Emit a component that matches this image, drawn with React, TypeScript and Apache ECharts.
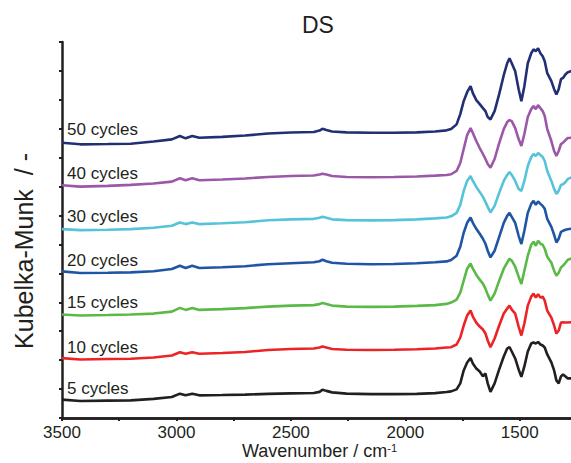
import React, { useEffect, useRef } from "react";
import * as echarts from "echarts";

const wavenumbers = [3500, 3420, 3300, 3200, 3100, 3020, 2985, 2960, 2931, 2900, 2800, 2700, 2600, 2500, 2400, 2375, 2362, 2345, 2320, 2257, 2150, 2050, 1950, 1870, 1820, 1800, 1776, 1760, 1745, 1730, 1715, 1705, 1690, 1675, 1661, 1650, 1640, 1628, 1610, 1590, 1570, 1555, 1545, 1535, 1520, 1505, 1493, 1480, 1465, 1450, 1440, 1430, 1420, 1410, 1400, 1391, 1380, 1362, 1350, 1340, 1330, 1320, 1311, 1300, 1290, 1277, 1260, 1250];

const cycles5 = [18.4, 17.0, 17.4, 17.7, 19.2, 21.0, 24.4, 22.7, 24.4, 22.7, 23.0, 23.4, 24.2, 24.7, 25.0, 26.2, 28.4, 27.2, 25.7, 24.4, 23.9, 23.9, 24.2, 24.9, 26.0, 26.7, 28.7, 34.7, 47.7, 55.7, 60.2, 54.7, 49.7, 46.7, 41.7, 44.7, 34.7, 26.2, 34.7, 48.7, 61.7, 69.7, 71.2, 66.7, 59.7, 48.7, 41.2, 51.7, 66.7, 74.7, 75.7, 74.7, 76.2, 73.7, 72.7, 70.7, 63.7, 55.7, 47.7, 37.7, 34.7, 41.7, 43.7, 41.7, 39.7, 39.7, 39.7, 39.7];
const cycles10 = [60.0, 58.7, 59.1, 59.4, 60.7, 62.7, 66.0, 64.4, 66.0, 64.4, 65.2, 66.2, 68.2, 69.2, 69.7, 70.7, 71.7, 70.7, 69.2, 68.4, 68.2, 68.4, 68.9, 69.7, 70.7, 71.0, 73.7, 80.7, 92.7, 102.7, 107.7, 101.7, 95.7, 91.7, 88.7, 84.7, 77.7, 71.0, 79.7, 92.7, 104.7, 109.7, 112.7, 108.7, 104.7, 91.7, 82.7, 94.7, 112.7, 121.7, 124.7, 120.7, 124.2, 120.7, 121.7, 117.7, 107.7, 100.7, 92.7, 84.7, 87.7, 95.7, 96.0, 95.7, 95.7, 96.0, 96.2, 96.2];
const cycles15 = [103.7, 102.7, 103.2, 103.7, 104.7, 106.7, 110.4, 108.4, 110.4, 108.4, 109.2, 110.2, 111.7, 112.7, 113.2, 114.2, 115.4, 114.2, 112.7, 111.7, 111.4, 111.7, 112.4, 113.2, 114.4, 115.7, 118.7, 125.7, 137.7, 149.7, 155.0, 149.7, 143.7, 138.7, 134.7, 129.7, 123.7, 117.7, 124.7, 137.7, 149.7, 155.7, 159.7, 157.7, 151.7, 141.7, 134.4, 147.7, 162.7, 173.7, 176.7, 172.7, 177.7, 174.7, 173.7, 169.7, 161.7, 155.7, 147.7, 142.7, 145.7, 151.0, 152.7, 155.7, 158.7, 159.7, 161.7, 162.7];
const cycles20 = [147.0, 145.4, 145.7, 146.0, 147.2, 149.4, 152.7, 150.4, 152.7, 150.4, 151.2, 152.2, 154.2, 155.2, 156.2, 157.2, 158.7, 157.2, 155.7, 154.7, 154.2, 154.4, 155.2, 156.2, 157.0, 158.4, 162.7, 171.7, 185.7, 195.7, 201.0, 195.7, 189.7, 184.7, 179.7, 174.7, 167.7, 161.0, 167.7, 181.7, 195.7, 202.7, 205.7, 201.7, 195.7, 182.7, 174.4, 187.7, 205.7, 214.7, 217.7, 213.7, 217.2, 214.7, 212.7, 209.7, 199.7, 191.7, 183.7, 176.0, 179.7, 186.7, 187.7, 188.7, 189.2, 189.7, 190.2, 190.2];
const cycles30 = [189.4, 188.4, 188.7, 189.4, 190.7, 192.7, 196.0, 194.4, 196.0, 194.4, 195.2, 196.2, 198.2, 199.2, 199.7, 200.7, 201.7, 200.7, 199.2, 198.4, 198.2, 198.4, 199.2, 200.2, 201.0, 202.2, 205.7, 213.7, 227.7, 237.7, 242.7, 237.7, 231.7, 226.7, 221.7, 216.7, 211.7, 206.0, 212.7, 225.7, 237.7, 243.7, 246.7, 243.7, 237.7, 229.7, 227.7, 237.7, 252.7, 261.7, 264.7, 262.7, 265.7, 263.7, 261.7, 257.7, 247.7, 237.7, 229.7, 224.7, 227.7, 233.7, 234.4, 236.7, 239.7, 241.0, 242.7, 243.7];
const cycles40 = [233.4, 232.0, 232.7, 233.7, 235.2, 237.0, 240.4, 238.4, 240.4, 238.4, 239.2, 240.2, 241.7, 242.7, 243.2, 244.2, 245.0, 244.2, 242.7, 241.7, 241.4, 241.7, 242.2, 243.0, 243.7, 244.4, 247.7, 255.7, 269.7, 283.7, 290.7, 285.7, 277.7, 270.7, 264.7, 259.7, 254.7, 251.0, 259.7, 275.7, 289.7, 296.7, 298.7, 297.7, 290.7, 279.7, 272.7, 284.7, 301.7, 309.7, 312.7, 309.7, 313.7, 310.7, 307.7, 302.7, 289.7, 277.7, 267.7, 262.7, 267.7, 274.7, 276.0, 278.7, 280.7, 281.0, 282.7, 283.7];
const cycles50 = [276.0, 274.4, 274.7, 275.0, 277.2, 279.4, 282.7, 280.4, 282.7, 281.0, 281.9, 283.2, 285.2, 286.2, 286.7, 288.2, 290.0, 288.7, 287.2, 286.4, 286.0, 286.0, 286.4, 287.2, 288.4, 289.7, 294.4, 304.7, 317.7, 326.7, 332.7, 325.7, 318.7, 314.7, 310.7, 307.7, 301.7, 299.4, 307.7, 324.7, 343.7, 355.7, 360.7, 355.7, 347.7, 329.7, 317.7, 332.7, 355.7, 365.7, 369.7, 367.7, 370.7, 365.7, 362.7, 357.7, 345.7, 337.7, 329.7, 324.4, 329.7, 339.7, 341.0, 344.7, 346.7, 347.7, 349.7, 350.7];

const seriesNames = ["5 cycles", "10 cycles", "15 cycles", "20 cycles", "30 cycles", "40 cycles", "50 cycles"];
const seriesValues = [cycles5, cycles10, cycles15, cycles20, cycles30, cycles40, cycles50];
const labelLevels = [29.4, 71, 115.4, 157.7, 202, 245, 289.4];
const xTicks = [3500, 3000, 2500, 2000, 1500];

const colors = ["#231f20", "#ec2327", "#5bb947", "#1f55a5", "#55c4d8", "#9c58a8", "#222f73"];
const FONT = "Liberation Sans, Arial, sans-serif";
const INK = "#231f20";

export default function App() {
  const ref = useRef<HTMLDivElement>(null);
  useEffect(() => {
    if (!ref.current) return;
    const chart = echarts.init(ref.current, null, { renderer: "svg" });
    const axisLine = { show: true, lineStyle: { color: INK, width: 2.5 } };
    const series = seriesNames.map((name, si) => ({
      name,
      type: "line",
      showSymbol: false,
      symbol: "none",
      data: wavenumbers.map((w, i) => [w, seriesValues[si][i]]),
      lineStyle: { color: colors[si], width: 2.6 },
      itemStyle: { color: colors[si] },
      z: 3,
      markPoint: {
        silent: true,
        symbol: "circle",
        symbolSize: 1,
        itemStyle: { color: "rgba(0,0,0,0)" },
        label: {
          show: true,
          position: "right",
          distance: 0,
          formatter: name,
          color: INK,
          fontSize: 17,
          fontFamily: FONT,
        },
        data: [{ coord: [3480, labelLevels[si]], name }],
      },
    }));
    chart.setOption({
      animation: false,
      backgroundColor: "#ffffff",
      title: {
        text: "DS",
        left: 302,
        top: 13,
        padding: 0,
        textStyle: { fontSize: 23, fontWeight: "normal", color: INK, fontFamily: FONT },
      },
      grid: { left: 62, right: 3, top: 42, bottom: 45, containLabel: false, outerBoundsMode: "none" },
      xAxis: [
        {
          type: "value",
          position: "bottom",
          inverse: true,
          min: 1250,
          max: 3500,
          interval: 250,
          axisLine,
          axisTick: { show: true, inside: false, length: 3, lineStyle: { color: INK, width: 2 } },
          axisLabel: {
            formatter: (v: number) => (xTicks.includes(v) ? String(v) : ""),
            fontSize: 17,
            color: INK,
            fontFamily: FONT,
            margin: 6,
          },
          splitLine: { show: false },
          name: "Wavenumber / cm{sup|-1}",
          nameLocation: "middle",
          nameGap: 24,
          nameMoveOverlap: false,
          nameTextStyle: {
            fontSize: 18,
            lineHeight: 18,
            color: INK,
            fontFamily: FONT,
            rich: { sup: { fontSize: 11, lineHeight: 18, color: INK, fontFamily: FONT, padding: [0, 0, 6, 0] } },
          },
        },
        {
          type: "value",
          position: "top",
          inverse: true,
          min: 1250,
          max: 3500,
          interval: 250,
          axisLine,
          axisTick: { show: true, inside: true, length: 3, lineStyle: { color: INK, width: 2 } },
          axisLabel: { show: false },
          splitLine: { show: false },
        },
      ],
      yAxis: [
        {
          type: "value",
          position: "left",
          min: 0,
          max: 377,
          interval: 29,
          axisLine,
          axisTick: { show: true, inside: false, length: 3, lineStyle: { color: INK, width: 2 } },
          axisLabel: { show: false },
          splitLine: { show: false },
        },
        {
          type: "value",
          position: "right",
          min: 0,
          max: 377,
          interval: 29,
          axisLine,
          axisTick: { show: false },
          axisLabel: { show: false },
          splitLine: { show: false },
        },
      ],
      graphic: [
        {
          type: "text",
          x: 24,
          y: 251,
          rotation: Math.PI / 2,
          style: {
            text: "Kubelka-Munk  / -",
            fontSize: 25,
            fontFamily: FONT,
            fill: INK,
            align: "center",
            verticalAlign: "middle",
          },
        },
      ],
      series,
    });
    return () => chart.dispose();
  }, []);
  return (
    <div
      ref={ref}
      style={{ position: "fixed", left: 0, top: 0, width: 580, height: 463, background: "#fff" }}
    />
  );
}
